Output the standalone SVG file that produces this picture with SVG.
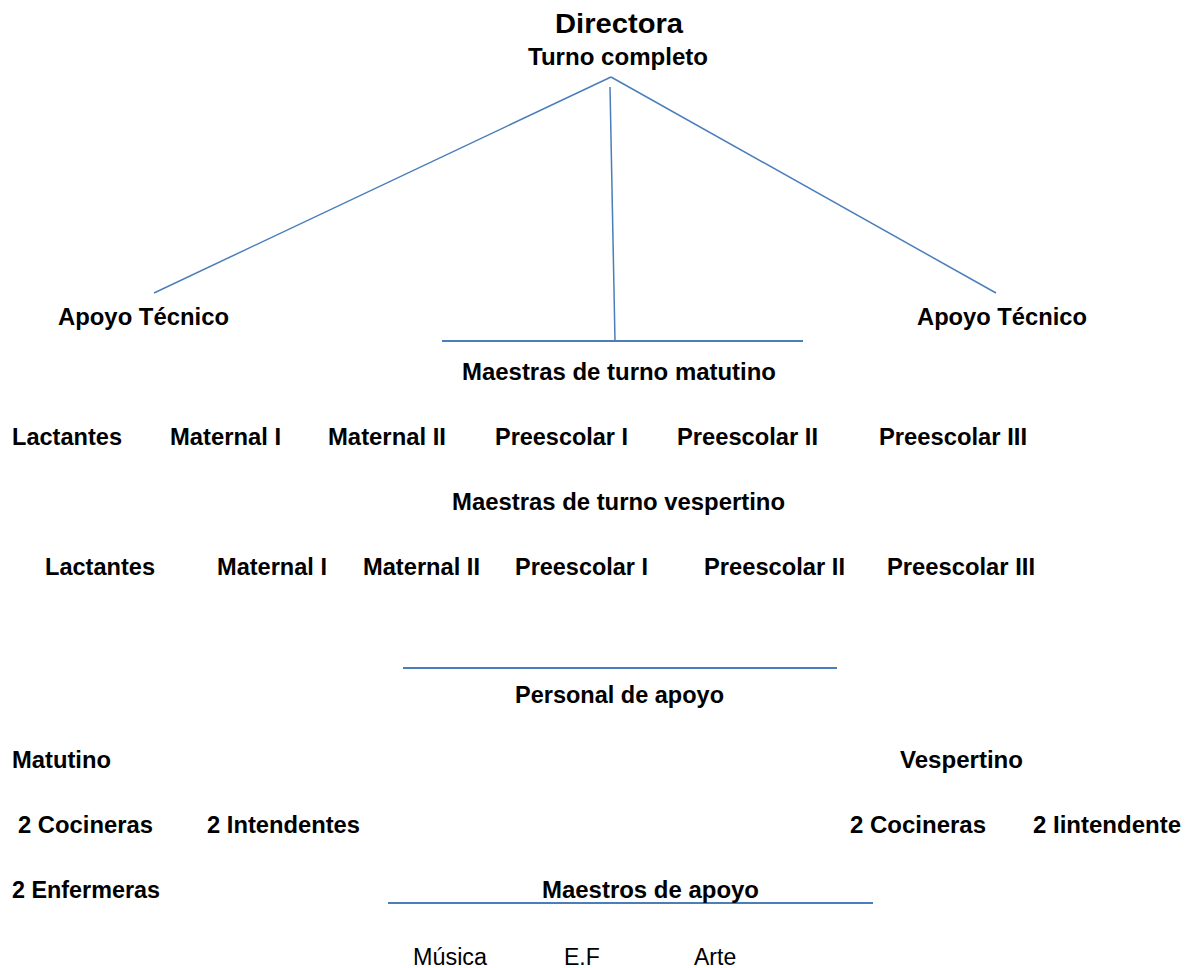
<svg xmlns="http://www.w3.org/2000/svg" width="1187" height="968" viewBox="0 0 1187 968">
<style>
text{font-family:"Liberation Sans",Arial,sans-serif;fill:#000}
.b{font-weight:bold;font-size:23px}
.r{font-size:23px}
.t{font-weight:bold;font-size:28px}
.c{stroke:#4a7ebb;stroke-width:1.5;fill:none}
.h{stroke:#4a7ebb;stroke-width:2;fill:none}
</style>
<rect width="1187" height="968" fill="#fff"/>
<g id="connectors">
<line class="c" x1="611" y1="77" x2="154" y2="293"/>
<line class="c" x1="611" y1="77" x2="996" y2="293"/>
<line class="c" x1="610" y1="87" x2="615" y2="341"/>
<line class="h" x1="442" y1="341" x2="803" y2="341"/>
<line class="h" x1="403" y1="668" x2="837" y2="668"/>
<line class="h" x1="388" y1="903" x2="873" y2="903"/>
</g>
<g id="directora"><text class="t" x="555" y="33" textLength="128" lengthAdjust="spacingAndGlyphs">Directora</text>
<text class="b" x="528" y="65" textLength="180" lengthAdjust="spacingAndGlyphs">Turno completo</text></g>
<g id="apoyo-tecnico-1"><text class="b" x="58" y="325" textLength="171" lengthAdjust="spacingAndGlyphs">Apoyo Técnico</text></g>
<g id="apoyo-tecnico-2"><text class="b" x="917" y="325" textLength="170" lengthAdjust="spacingAndGlyphs">Apoyo Técnico</text></g>
<g id="maestras-matutino"><text class="b" x="462" y="380" textLength="314" lengthAdjust="spacingAndGlyphs">Maestras de turno matutino</text></g>
<g id="matutino-grupos">
<text class="b" x="12" y="445" textLength="110" lengthAdjust="spacingAndGlyphs">Lactantes</text>
<text class="b" x="170" y="445" textLength="111" lengthAdjust="spacingAndGlyphs">Maternal I</text>
<text class="b" x="328" y="445" textLength="118" lengthAdjust="spacingAndGlyphs">Maternal II</text>
<text class="b" x="495" y="445" textLength="133" lengthAdjust="spacingAndGlyphs">Preescolar I</text>
<text class="b" x="677" y="445" textLength="141" lengthAdjust="spacingAndGlyphs">Preescolar II</text>
<text class="b" x="879" y="445" textLength="148" lengthAdjust="spacingAndGlyphs">Preescolar III</text>
</g>
<g id="maestras-vespertino"><text class="b" x="452" y="510" textLength="333" lengthAdjust="spacingAndGlyphs">Maestras de turno vespertino</text></g>
<g id="vespertino-grupos">
<text class="b" x="45" y="575" textLength="110" lengthAdjust="spacingAndGlyphs">Lactantes</text>
<text class="b" x="217" y="575" textLength="110" lengthAdjust="spacingAndGlyphs">Maternal I</text>
<text class="b" x="363" y="575" textLength="117" lengthAdjust="spacingAndGlyphs">Maternal II</text>
<text class="b" x="515" y="575" textLength="133" lengthAdjust="spacingAndGlyphs">Preescolar I</text>
<text class="b" x="704" y="575" textLength="141" lengthAdjust="spacingAndGlyphs">Preescolar II</text>
<text class="b" x="887" y="575" textLength="148" lengthAdjust="spacingAndGlyphs">Preescolar III</text>
</g>
<g id="personal-apoyo"><text class="b" x="515" y="703" textLength="209" lengthAdjust="spacingAndGlyphs">Personal de apoyo</text></g>
<g id="matutino"><text class="b" x="12" y="768" textLength="99" lengthAdjust="spacingAndGlyphs">Matutino</text></g>
<g id="vespertino"><text class="b" x="900" y="768" textLength="123" lengthAdjust="spacingAndGlyphs">Vespertino</text></g>
<g id="matutino-personal">
<text class="b" x="18" y="833" textLength="135" lengthAdjust="spacingAndGlyphs">2 Cocineras</text>
<text class="b" x="207" y="833" textLength="153" lengthAdjust="spacingAndGlyphs">2 Intendentes</text>
<text class="b" x="12" y="898" textLength="148" lengthAdjust="spacingAndGlyphs">2 Enfermeras</text>
</g>
<g id="vespertino-personal">
<text class="b" x="850" y="833" textLength="136" lengthAdjust="spacingAndGlyphs">2 Cocineras</text>
<text class="b" x="1033" y="833" textLength="148" lengthAdjust="spacingAndGlyphs">2 Iintendente</text>
</g>
<g id="maestros-apoyo"><text class="b" x="542" y="898" textLength="217" lengthAdjust="spacingAndGlyphs">Maestros de apoyo</text></g>
<g id="maestros-apoyo-areas">
<text class="r" x="413" y="965" textLength="74" lengthAdjust="spacingAndGlyphs">Música</text>
<text class="r" x="564" y="965">E.F</text>
<text class="r" x="694" y="965">Arte</text>
</g>
</svg>
